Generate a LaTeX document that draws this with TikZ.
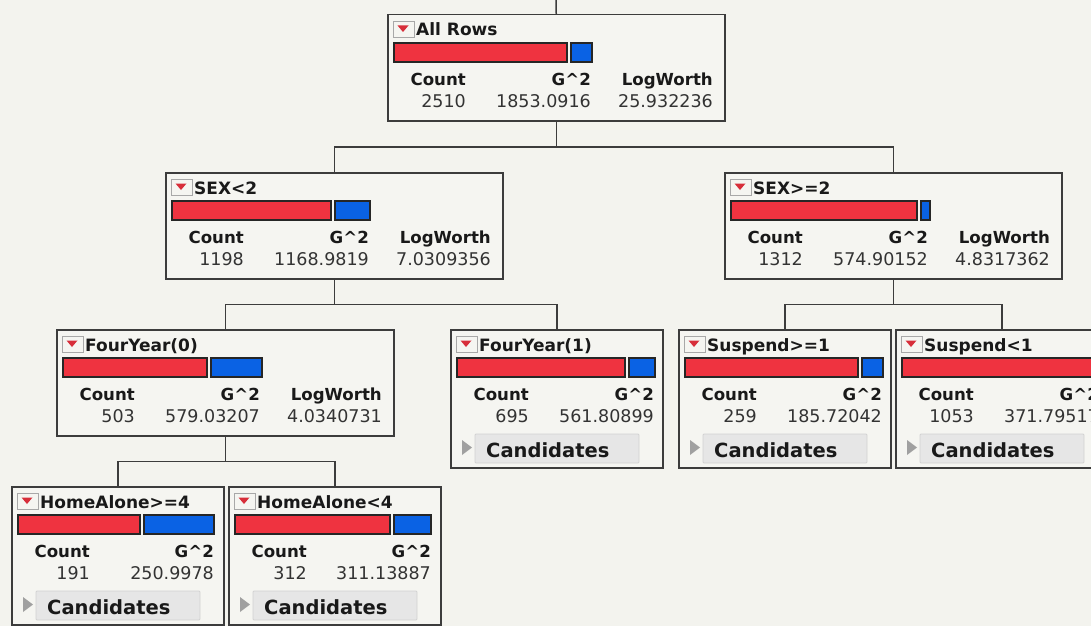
\documentclass[tikz,border=0pt]{standalone}
\usepackage{fontspec}
\setmainfont{DejaVu Sans}
\usepackage{xcolor}
\usepackage{tikz}
\usetikzlibrary{calc}

\definecolor{panebg}{HTML}{F3F3EE}
\definecolor{boxbg}{HTML}{F5F5F1}
\definecolor{frame}{HTML}{3C3C3C}
\definecolor{barred}{HTML}{EF3340}
\definecolor{barblue}{HTML}{0A62E4}
\definecolor{iconline}{HTML}{A8A8A8}
\definecolor{btnfill}{HTML}{E6E6E6}
\definecolor{btnline}{HTML}{D2D2D2}
\definecolor{btnarrow}{HTML}{A0A0A0}

\newcommand{\headfont}{\fontsize{17}{20}\selectfont\bfseries}
\newcommand{\labfont}{\fontsize{16.6}{19}\selectfont\bfseries}
\newcommand{\valfont}{\fontsize{17.5}{20}\selectfont}
\newcommand{\candfont}{\fontsize{19.5}{22}\selectfont\bfseries}

% header of a split box: node, title, red bar, blue bar
\newcommand{\splithead}[4]{%
  \begin{scope}[shift={(#1.north west)}]
    \draw[iconline,fill=boxbg,line width=0.8pt] (6,7) rectangle (27,23);
    \fill[barred!90!black] (10.5,11.5) -- (21.5,11.5) -- (16,18) -- cycle;
    \node[txt,anchor=base west,font=\headfont] at (29,22) {#2};
    \draw[bar,fill=barred] (7,29) rectangle ++(#3,19);
    \draw[bar,fill=barblue] (#3+11,29) rectangle ++(#4,19);
  \end{scope}}
% count and G^2 columns: node, G^2 column, count, G^2
\newcommand{\splitstats}[4]{%
  \begin{scope}[shift={(#1.north west)}]
    \node[txt,anchor=base east,font=\labfont] at (79,71) {Count};
    \node[txt,anchor=base east,font=\labfont] at (#2,71) {G\textasciicircum2};
    \node[val,anchor=base east] at (79,93) {#3};
    \node[val,anchor=base east] at (#2,93) {#4};
  \end{scope}}
% logworth column: node, value
\newcommand{\splitworth}[2]{%
  \begin{scope}[shift={(#1.north west)}]
    \node[txt,anchor=base east,font=\labfont] at (326,71) {LogWorth};
    \node[val,anchor=base east] at (326,93) {#2};
  \end{scope}}
% candidates button of a leaf
\newcommand{\splitcand}[1]{%
  \begin{scope}[shift={(#1.north west)}]
    \fill[btnarrow] (12,111) -- (22,118.5) -- (12,126) -- cycle;
    \draw[btnline,fill=btnfill,line width=0.8pt,rounded corners=1pt] (25,105) rectangle (189,134);
    \node[txt,anchor=base west,font=\candfont] at (36,128) {Candidates};
  \end{scope}}

\begin{document}
\begin{tikzpicture}[
  x=1pt,y=-1pt,
  splitbox/.style={draw=frame,line width=1.5pt,fill=boxbg,anchor=north west,inner sep=0pt},
  innerbox/.style={splitbox,minimum width=337pt,minimum height=106pt},
  leafbox/.style={splitbox,minimum width=212pt,minimum height=138pt},
  link/.style={draw=frame,line width=1.5pt},
  bar/.style={draw=black!85,line width=1.2pt},
  txt/.style={inner sep=0pt,text=black!90},
  val/.style={txt,font=\valfont,text=black!80}
]
\useasboundingbox (0,0) rectangle (1091,626);
\clip (0,0) rectangle (1091,626);
\fill[panebg] (0,0) rectangle (1091,626);

% boxes
\node[innerbox] (root)  at (387,14)  {};
\node[innerbox] (sexl)  at (165,172) {};
\node[innerbox] (sexr)  at (724,172) {};
\node[innerbox] (fy0)   at (56,329)  {};
\node[leafbox]  (fy1)   at (450,329) {};
\node[leafbox]  (susp1) at (678,329) {};
\node[leafbox]  (susp0) at (895,329) {};
\node[leafbox]  (ha4)   at (11,486)  {};
\node[leafbox]  (ha0)   at (228,486) {};

% connectors
\coordinate (rootin) at (556,0);
\draw[link] (rootin) -- (root.north);
\coordinate (j1) at ($(root.south)!.5!(sexl.north)$);
\draw[link] (root.south) -- (root.south |- j1);
\draw[link] (sexl.north) |- (j1) -| (sexr.north);
\coordinate (j2) at ($(sexl.south)!.5!(fy0.north)$);
\draw[link] (sexl.south) -- (sexl.south |- j2);
\draw[link] (fy0.north) |- (j2) -| (fy1.north);
\coordinate (j3) at ($(sexr.south)!.5!(susp1.north)$);
\draw[link] (sexr.south) -- (sexr.south |- j3);
\draw[link] (susp1.north) |- (j3) -| (susp0.north);
\coordinate (j4) at ($(fy0.south)!.5!(ha4.north)$);
\draw[link] (fy0.south) -- (fy0.south |- j4);
\draw[link] (ha4.north) |- (j4) -| (ha0.north);

% contents
\splithead{root}{All Rows}{173}{21}
\splitstats{root}{204}{2510}{1853.0916}
\splitworth{root}{25.932236}

\splithead{sexl}{SEX<2}{159}{35}
\splitstats{sexl}{204}{1198}{1168.9819}
\splitworth{sexl}{7.0309356}

\splithead{sexr}{SEX>=2}{186}{9}
\splitstats{sexr}{204}{1312}{574.90152}
\splitworth{sexr}{4.8317362}

\splithead{fy0}{FourYear(0)}{144}{51}
\splitstats{fy0}{204}{503}{579.03207}
\splitworth{fy0}{4.0340731}

\splithead{fy1}{FourYear(1)}{168}{26}
\splitstats{fy1}{204}{695}{561.80899}
\splitcand{fy1}

\splithead{susp1}{Suspend>=1}{173}{21}
\splitstats{susp1}{204}{259}{185.72042}
\splitcand{susp1}

\splithead{susp0}{Suspend<1}{194}{4}
\splitstats{susp0}{204}{1053}{371.79517}
\splitcand{susp0}

\splithead{ha4}{HomeAlone>=4}{122}{70}
\splitstats{ha4}{203}{191}{250.9978}
\splitcand{ha4}

\splithead{ha0}{HomeAlone<4}{155}{37}
\splitstats{ha0}{203}{312}{311.13887}
\splitcand{ha0}
\end{tikzpicture}
\end{document}
